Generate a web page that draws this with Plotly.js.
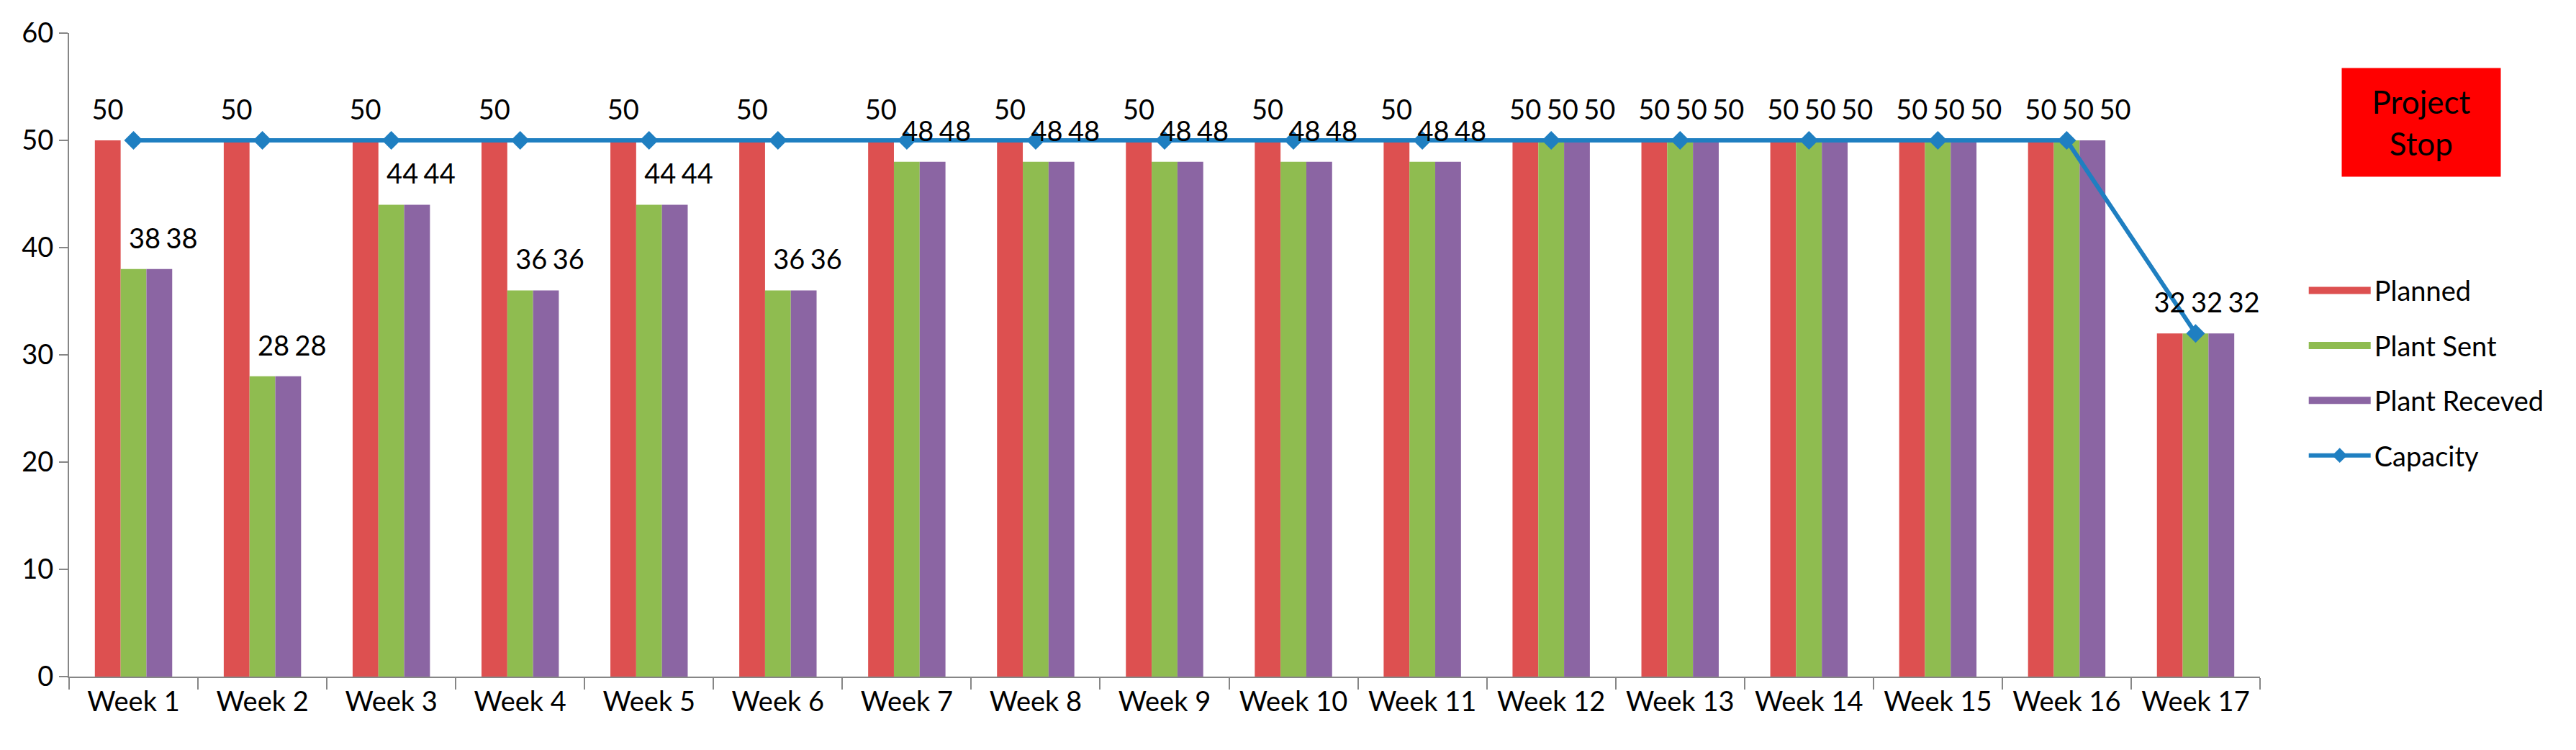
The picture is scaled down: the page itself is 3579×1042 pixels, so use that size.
<!DOCTYPE html>
<html><head><meta charset="utf-8">
<script src="https://cdn.plot.ly/plotly-3.0.1.min.js"></script>
<style>html,body{margin:0;padding:0;background:#fff}#chart{width:3579px;height:1042px}</style>
</head><body><div id="chart"></div>
<script>
const weeks = ['Week 1','Week 2','Week 3','Week 4','Week 5','Week 6','Week 7','Week 8','Week 9','Week 10','Week 11','Week 12','Week 13','Week 14','Week 15','Week 16','Week 17'];
const planned = [50,50,50,50,50,50,50,50,50,50,50,50,50,50,50,50,32];
const plantSent = [38,28,44,36,44,36,48,48,48,48,48,50,50,50,50,50,32];
const plantReceved = [38,28,44,36,44,36,48,48,48,48,48,50,50,50,50,50,32];
const capacity = [50,50,50,50,50,50,50,50,50,50,50,50,50,50,50,50,32];
const yTicks = [0,10,20,30,40,50,60];
const stopNote = 'Project<br>Stop';

const FONT = 'Lato, "Liberation Sans", sans-serif';
const FS = 38;
const colors = {p:'#DD5050', s:'#8FBC50', r:'#8B65A3', c:'#1F7FC1'};
const nCat = weeks.length;
const labelShift = 0.0866; // label layer offset (Excel places value labels slightly right)

function barTrace(name, vals, col, grp) {
  return {type:'bar', name:name, x:weeks, y:vals, marker:{color:col},
    offsetgroup:grp, legendgroup:grp, showlegend:false, hoverinfo:'skip'};
}
// legend-only swatch entries (wide rectangles like the original legend)
function swatchTrace(name, col, grp) {
  return {type:'scatter', mode:'lines', name:name, x:weeks, y:weeks.map(() => null),
    line:{color:col, width:22}, legendgroup:grp, hoverinfo:'skip', connectgaps:false};
}
function labelTrace(vals, grp) {
  return {type:'scatter', mode:'markers+text', x:weeks, y:vals, text:vals.map(String),
    xaxis:'x2', yaxis:'y',
    textposition:'top center', textfont:{family:FONT, size:FS, color:'#000'},
    marker:{size:30, color:'rgba(0,0,0,0)'}, showlegend:false, hoverinfo:'skip',
    alignmentgroup:'lab', offsetgroup:grp, cliponaxis:false};
}
const data = [
  swatchTrace('Planned', colors.p, 'p'),
  swatchTrace('Plant Sent', colors.s, 's'),
  swatchTrace('Plant Receved', colors.r, 'r'),
  barTrace('Planned', planned, colors.p, 'p'),
  barTrace('Plant Sent', plantSent, colors.s, 's'),
  barTrace('Plant Receved', plantReceved, colors.r, 'r'),
  {type:'scatter', mode:'lines+markers', name:'Capacity', x:weeks, y:capacity,
    line:{color:colors.c, width:6}, marker:{symbol:'diamond', size:20, color:colors.c},
    alignmentgroup:'cap', offsetgroup:'cap', legendgroup:'c', hoverinfo:'skip', cliponaxis:false},
  labelTrace(planned, 'p'),
  labelTrace(plantSent, 's'),
  labelTrace(plantReceved, 'r')
];
const layout = {
  width:3579, height:1042,
  margin:{l:96, r:439, t:46, b:102},
  paper_bgcolor:'#fff', plot_bgcolor:'#fff',
  font:{family:FONT, size:FS, color:'#000'},
  barmode:'group', bargap:0.4, bargroupgap:0,
  scattermode:'group', scattergap:0.137,
  showlegend:true,
  legend:{x:1.0206, xanchor:'left', y:0.635, yanchor:'top', traceorder:'grouped',
    tracegroupgap:24, font:{family:FONT, size:FS, color:'#000'}, itemwidth:86, bgcolor:'rgba(0,0,0,0)'},
  xaxis:{type:'category', range:[-0.5, nCat-0.5], showline:true, linecolor:'#868686', linewidth:2,
    ticks:'outside', tickson:'boundaries', ticklen:16, tickcolor:'#868686', tickwidth:2,
    showgrid:false, zeroline:false, tickfont:{family:FONT, size:FS, color:'#000'}},
  xaxis2:{type:'category', overlaying:'x', range:[-0.5-labelShift, nCat-0.5-labelShift],
    visible:false, showgrid:false, zeroline:false},
  yaxis:{range:[0,60], tickvals:yTicks, showline:true, linecolor:'#868686', linewidth:2,
    ticks:'outside', ticklen:12, tickcolor:'#868686', tickwidth:2, showgrid:false,
    zeroline:false, tickfont:{family:FONT, size:FS, color:'#000'}},
  annotations:[{xref:'paper', yref:'paper', x:1.0735, y:0.861, xanchor:'center', yanchor:'middle',
    text:stopNote, showarrow:false, bgcolor:'#FF0000', width:220, height:150, borderpad:0,
    font:{family:FONT, size:44, color:'#000'}, align:'center'}]
};
Plotly.newPlot('chart', data, layout, {displayModeBar:false, staticPlot:true});
</script>
</body></html>
